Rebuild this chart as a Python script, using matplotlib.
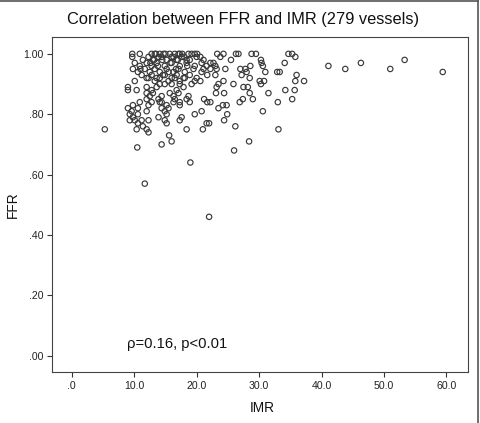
import matplotlib
matplotlib.use("Agg")
import matplotlib.pyplot as plt
from matplotlib.lines import Line2D

plt.rcParams['font.family'] = ['Liberation Sans', 'DejaVu Sans']

# IMR / FFR per vessel
imr = [
    9.7, 10.9, 12.8, 13.3, 14.1, 14.7, 15.7, 16.5, 17.1, 17.3, 18.7, 19.7, 20.1,
    23.3, 24.3, 26.3, 26.7, 28.8, 29.5, 34.7, 35.3,
    13.5, 14.4, 15.0, 16.0, 17.7, 18.0, 19.2,
    9.7, 11.4, 12.3, 13.2, 13.9, 15.2, 16.3, 16.8, 17.6, 18.9, 20.0,
    20.6, 23.8, 35.8, 21.1, 25.5, 30.3,
    13.0, 14.5, 15.8, 17.0, 12.6, 18.4,
    10.1, 10.9, 12.0, 12.8, 13.6, 14.9, 16.0, 17.3, 18.4, 19.7,
    20.8, 22.2, 22.7, 30.4, 34.1, 21.6, 23.0, 28.6, 30.6,
    9.8, 10.6, 11.7, 12.5, 13.3, 14.1, 15.2, 16.3, 17.1, 18.1, 19.5,
    21.1, 22.2, 23.2, 24.6, 27.0, 27.8, 20.8, 28.0, 31.0, 32.9, 33.3,
    11.0, 13.8, 15.5, 16.7, 18.5, 14.6,
    11.2, 12.0, 12.8, 13.6, 14.9, 16.0, 16.8, 17.9, 18.9, 20.0,
    21.7, 23.0, 27.2, 36.0, 28.5,
    10.1, 12.3, 13.3, 14.1, 15.5, 16.5, 17.3, 18.1, 19.7,
    20.6, 24.3, 30.1, 30.8, 35.8, 37.2,
    14.1, 14.9, 16.0, 17.3, 19.2,
    23.5, 25.9, 30.3,
    9.0, 10.4, 12.0, 12.8, 13.6, 16.8, 17.9,
    23.2, 27.5, 28.2, 34.2, 35.7,
    9.0, 12.0, 12.5, 13.0, 14.4, 15.7, 16.3, 17.1, 18.7,
    23.1, 24.4, 28.5, 31.5,
    12.0, 12.8, 13.9, 14.4, 16.5, 17.3, 18.4,
    21.2, 27.4, 29.0, 35.3, 21.7, 22.2, 26.9, 33.0,
    9.8, 10.9, 12.3, 14.1, 15.2, 16.3, 17.3, 18.9,
    24.2, 24.8, 23.5,
    9.0, 9.6, 10.6, 12.0, 14.4, 14.9, 15.5,
    20.8, 30.6,
    9.3, 9.8, 10.6, 13.9, 15.2, 17.6, 19.7,
    24.9,
    9.3, 10.1, 11.2, 12.3, 14.9, 17.3,
    24.4,
    10.6, 11.4, 15.2,
    22.0, 21.6, 26.2,
    5.3, 10.4, 12.0, 18.4, 21.0, 33.1,
    12.3, 15.6,
    10.5, 14.4, 16.0, 19.0, 26.0, 28.4, 11.7, 22.0,
    41.1, 43.8, 46.3, 51.0, 53.3, 59.4,
]
ffr = [
    1.00, 1.00, 1.00, 1.00, 1.00, 1.00, 1.00, 1.00, 1.00, 1.00, 1.00, 1.00, 1.00,
    1.00, 1.00, 1.00, 1.00, 1.00, 1.00, 1.00, 1.00,
    1.00, 0.99, 1.00, 0.99, 1.00, 0.99, 1.00,
    0.99, 0.98, 0.99, 0.98, 0.99, 0.98, 0.99, 0.98, 0.99, 0.98, 0.99,
    0.99, 0.99, 0.99, 0.98, 0.98, 0.98,
    0.98, 0.98, 0.97, 0.98, 0.97, 0.98,
    0.97, 0.96, 0.97, 0.96, 0.97, 0.96, 0.97, 0.96, 0.97, 0.96,
    0.97, 0.97, 0.97, 0.97, 0.97, 0.96, 0.96, 0.96, 0.96,
    0.95, 0.94, 0.95, 0.94, 0.95, 0.94, 0.95, 0.94, 0.95, 0.94, 0.95,
    0.95, 0.95, 0.95, 0.95, 0.95, 0.95, 0.94, 0.94, 0.94, 0.94, 0.94,
    0.95, 0.96, 0.94, 0.95, 0.96, 0.93,
    0.93, 0.92, 0.93, 0.92, 0.93, 0.92, 0.93, 0.92, 0.93, 0.92,
    0.93, 0.93, 0.93, 0.93, 0.92,
    0.91, 0.92, 0.91, 0.92, 0.91, 0.92, 0.91, 0.92, 0.91,
    0.91, 0.91, 0.91, 0.91, 0.91, 0.91,
    0.90, 0.90, 0.90, 0.90, 0.90,
    0.90, 0.90, 0.90,
    0.89, 0.88, 0.89, 0.88, 0.89, 0.88, 0.89,
    0.89, 0.89, 0.89, 0.88, 0.88,
    0.88, 0.87, 0.86, 0.87, 0.86, 0.87, 0.86, 0.87, 0.86,
    0.87, 0.87, 0.87, 0.87,
    0.85, 0.84, 0.85, 0.84, 0.85, 0.84, 0.85,
    0.85, 0.85, 0.85, 0.85, 0.84, 0.84, 0.84, 0.84,
    0.83, 0.84, 0.83, 0.84, 0.83, 0.84, 0.83, 0.84,
    0.83, 0.83, 0.82,
    0.82, 0.81, 0.82, 0.81, 0.82, 0.81, 0.82,
    0.81, 0.81,
    0.80, 0.79, 0.80, 0.79, 0.80, 0.79, 0.80,
    0.80,
    0.78, 0.78, 0.78, 0.78, 0.78, 0.78,
    0.78,
    0.77, 0.76, 0.77,
    0.77, 0.77, 0.76,
    0.75, 0.75, 0.75, 0.75, 0.75, 0.75,
    0.74, 0.73,
    0.69, 0.70, 0.71, 0.64, 0.68, 0.71, 0.57, 0.46,
    0.96, 0.95, 0.97, 0.95, 0.98, 0.94,
]

x_ticks = [0, 10, 20, 30, 40, 50, 60]
x_labels = ['.0', '10.0', '20.0', '30.0', '40.0', '50.0', '60.0']
y_ticks = [0, 0.2, 0.4, 0.6, 0.8, 1.0]
y_labels = ['.00', '.20', '.40', '.60', '.80', '1.00']

fig = plt.figure(figsize=(4.8, 4.23), dpi=100)
ax = fig.add_axes([0.1077, 0.1199, 0.868, 0.792])

ax.scatter(imr, ffr, s=15, facecolors='none', edgecolors='#3a3a3a', linewidths=0.85)

ax.set_xlim(-3.2, 63.5)
ax.set_ylim(-0.055, 1.055)
ax.set_xticks(x_ticks)
ax.set_xticklabels(x_labels)
ax.set_yticks(y_ticks)
ax.set_yticklabels(y_labels)
ax.tick_params(direction='out', length=3.6, width=0.8, color='#333333',
               labelsize=7.6, pad=2.5, labelcolor='#222222')
for sp in ax.spines.values():
    sp.set_color('#444444')
    sp.set_linewidth(0.8)

ax.text(8.8, 0.025, 'ρ=0.16, p<0.01', fontsize=10.6, color='#111111')

fig.text(0.507, 0.955, 'Correlation between FFR and IMR (279 vessels)',
         ha='center', va='center', fontsize=11.8, color='#111111')
fig.text(0.546, 0.035, 'IMR', ha='center', va='center', fontsize=9.8, color='#111111')
fig.text(0.027, 0.515, 'FFR', ha='center', va='center', rotation=90,
         fontsize=9.8, color='#111111')

# frame around the picture (top and right edges)
fig.add_artist(Line2D([0, 0.9952], [0.998, 0.998], color='#555555', lw=1.2))
fig.add_artist(Line2D([0.9952, 0.9952], [0, 0.998], color='#555555', lw=1.2))

plt.savefig('out.png', dpi=100)
